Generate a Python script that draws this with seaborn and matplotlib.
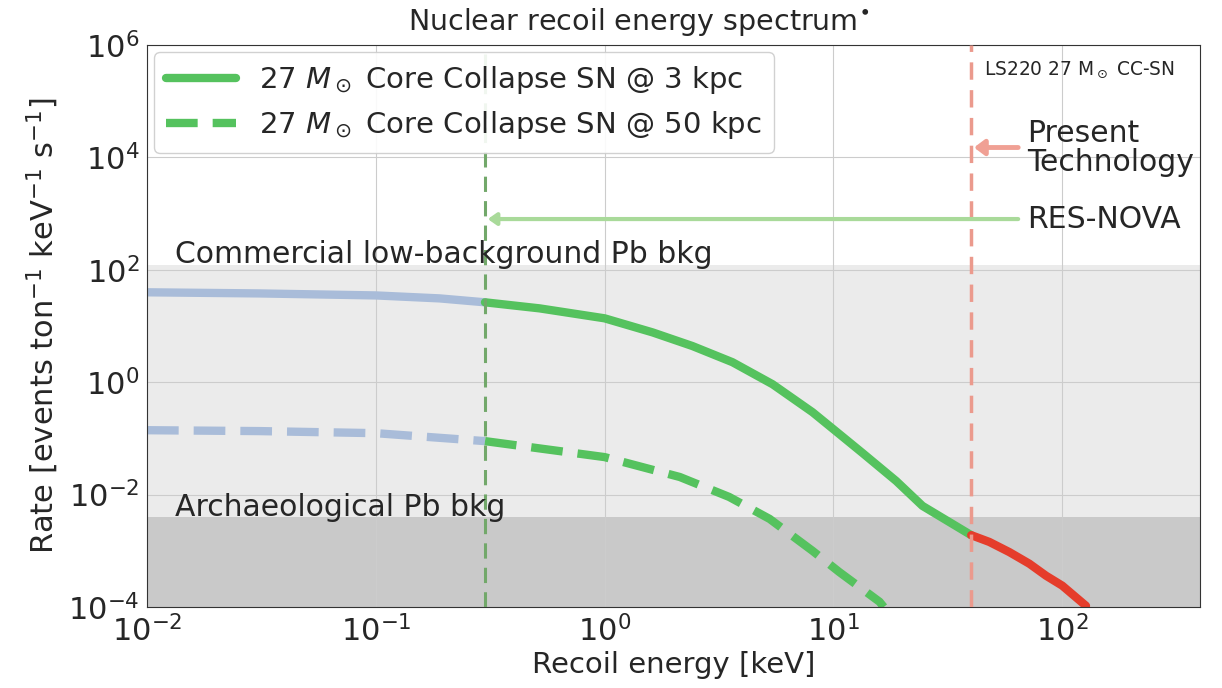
import numpy as np
import pandas as pd
import seaborn as sns
import matplotlib
matplotlib.use("Agg")
import matplotlib.pyplot as plt
from matplotlib.lines import Line2D

# values
energy_3kpc = [0.01, 0.031, 0.1, 0.19, 0.3, 0.52, 1.0, 1.62, 2.42, 3.62, 5.42, 8.1,
               10.6, 13.4, 18.8, 24.5, 40.0, 48.0, 58.7, 71.8, 85.0, 100.0, 127.0]
rate_3kpc = [39.8, 38.0, 35.0, 31.0, 26.4, 20.6, 13.7, 7.7, 4.4, 2.27, 0.92, 0.293,
             0.12, 0.055, 0.0175, 0.0063, 0.0019, 1.44e-3, 9.5e-4, 5.9e-4, 3.6e-4, 2.4e-4, 1.05e-4]

energy_50kpc = [0.01, 0.031, 0.1, 0.3, 1.0, 2.13, 3.5, 5.26, 8.1, 10.6, 15.9, 16.6]
rate_50kpc = [0.140, 0.135, 0.124, 0.0895, 0.0465, 0.0206, 0.0091, 0.0037, 0.001, 4.2e-4, 1.24e-4, 1e-4]

resnova_threshold = 0.3      # keV
present_threshold = 40.0     # keV
commercial_bkg = 1.2e2
archaeo_bkg = 4e-3

legend_labels = [r"27 $M_\odot$ Core Collapse SN @ 3 kpc",
                 r"27 $M_\odot$ Core Collapse SN @ 50 kpc"]

GREEN = "#55c25e"
BLUE = "#a9bcd9"
RED = "#e53d2b"

sns.set_style("whitegrid", {"axes.edgecolor": "0.2", "grid.color": "0.8"})
plt.rcParams["font.family"] = ["DejaVu Sans"]

df3 = pd.DataFrame({"E": energy_3kpc, "R": rate_3kpc})
df50 = pd.DataFrame({"E": energy_50kpc, "R": rate_50kpc})

fig = plt.figure(figsize=(12.22, 6.88), dpi=100)
ax = fig.add_axes([0.1203, 0.1177, 0.8617, 0.8169])
ax.set_axisbelow(True)

# background bands
ax.axhspan(1e-4, archaeo_bkg, color="#c9c9c9", zorder=0.1, lw=0)
ax.axhspan(archaeo_bkg, commercial_bkg, color="#ebebeb", zorder=0.1, lw=0)

lw = 6
low = df3[df3.E <= resnova_threshold]
mid = df3[(df3.E >= resnova_threshold) & (df3.E <= present_threshold)]
high = df3[df3.E >= present_threshold]
sns.lineplot(data=low, x="E", y="R", ax=ax, color=BLUE, lw=lw)
sns.lineplot(data=mid, x="E", y="R", ax=ax, color=GREEN, lw=lw)
sns.lineplot(data=high, x="E", y="R", ax=ax, color=RED, lw=lw)

low50 = df50[df50.E <= resnova_threshold]
hi50 = df50[df50.E >= resnova_threshold]
sns.lineplot(data=low50, x="E", y="R", ax=ax, color=BLUE, lw=lw)
ax.lines[-1].set_dashes([3.8, 1.8])
sns.lineplot(data=hi50, x="E", y="R", ax=ax, color=GREEN, lw=lw)
ax.lines[-1].set_dashes([3.8, 1.8])

# threshold lines
ax.axvline(resnova_threshold, color="#72a86a", lw=2.2, ls=(0, (5, 3)), zorder=3)
ax.axvline(present_threshold, color="#eb9a8d", lw=2.5, ls=(0, (5, 3)), zorder=3)

ax.set_xscale("log")
ax.set_yscale("log")
ax.set_xlim(1e-2, 4e2)
ax.set_ylim(1e-4, 1e6)
ax.set_xticks([1e-2, 1e-1, 1e0, 1e1, 1e2])
ax.set_yticks([1e-4, 1e-2, 1e0, 1e2, 1e4, 1e6])
ax.minorticks_off()
ax.tick_params(labelsize=22, pad=2)
ax.set_xlabel("Recoil energy [keV]", fontsize=21, labelpad=3)
ax.set_ylabel(r"Rate [events ton$^{-1}$ keV$^{-1}$ s$^{-1}$]", fontsize=22, labelpad=5)
ax.text(0.467, 1.012, r"Nuclear recoil energy spectrum$^{\bullet}$", fontsize=20.5,
        transform=ax.transAxes, ha="center", va="bottom")

# annotations
ax.annotate("", xy=(present_threshold, 1.5e4), xytext=(66, 1.5e4),
            arrowprops=dict(arrowstyle="-|>,head_length=0.6,head_width=0.45",
                            color="#f0a094", lw=3.5))
ax.text(70, 1.5e4, "Present\nTechnology", fontsize=21.5, va="center", ha="left",
        linespacing=1.0)
ax.annotate("", xy=(resnova_threshold, 8e2), xytext=(66, 8e2),
            arrowprops=dict(arrowstyle="-|>,head_length=0.5,head_width=0.35",
                            color="#a9da9a", lw=3))
ax.text(70, 8e2, "RES-NOVA", fontsize=21.5, va="center", ha="left")
ax.text(45.7, 3.6e5, r"LS220 27 M$_\odot$ CC-SN", fontsize=13.4, va="center", ha="left")
ax.text(0.0132, 1.9e2, "Commercial low-background Pb bkg", fontsize=21.5, va="center", ha="left")
ax.text(0.0132, 6e-3, "Archaeological Pb bkg", fontsize=21.5, va="center", ha="left")

handles = [Line2D([], [], color=GREEN, lw=6),
           Line2D([], [], color=GREEN, lw=6, dashes=[3.8, 1.8])]
ax.legend(handles, legend_labels, loc="upper left", fontsize=21, handlelength=2.4,
          frameon=True, framealpha=0.9, borderaxespad=0.25, labelspacing=0.45)

fig.savefig("out.png", dpi=100)
